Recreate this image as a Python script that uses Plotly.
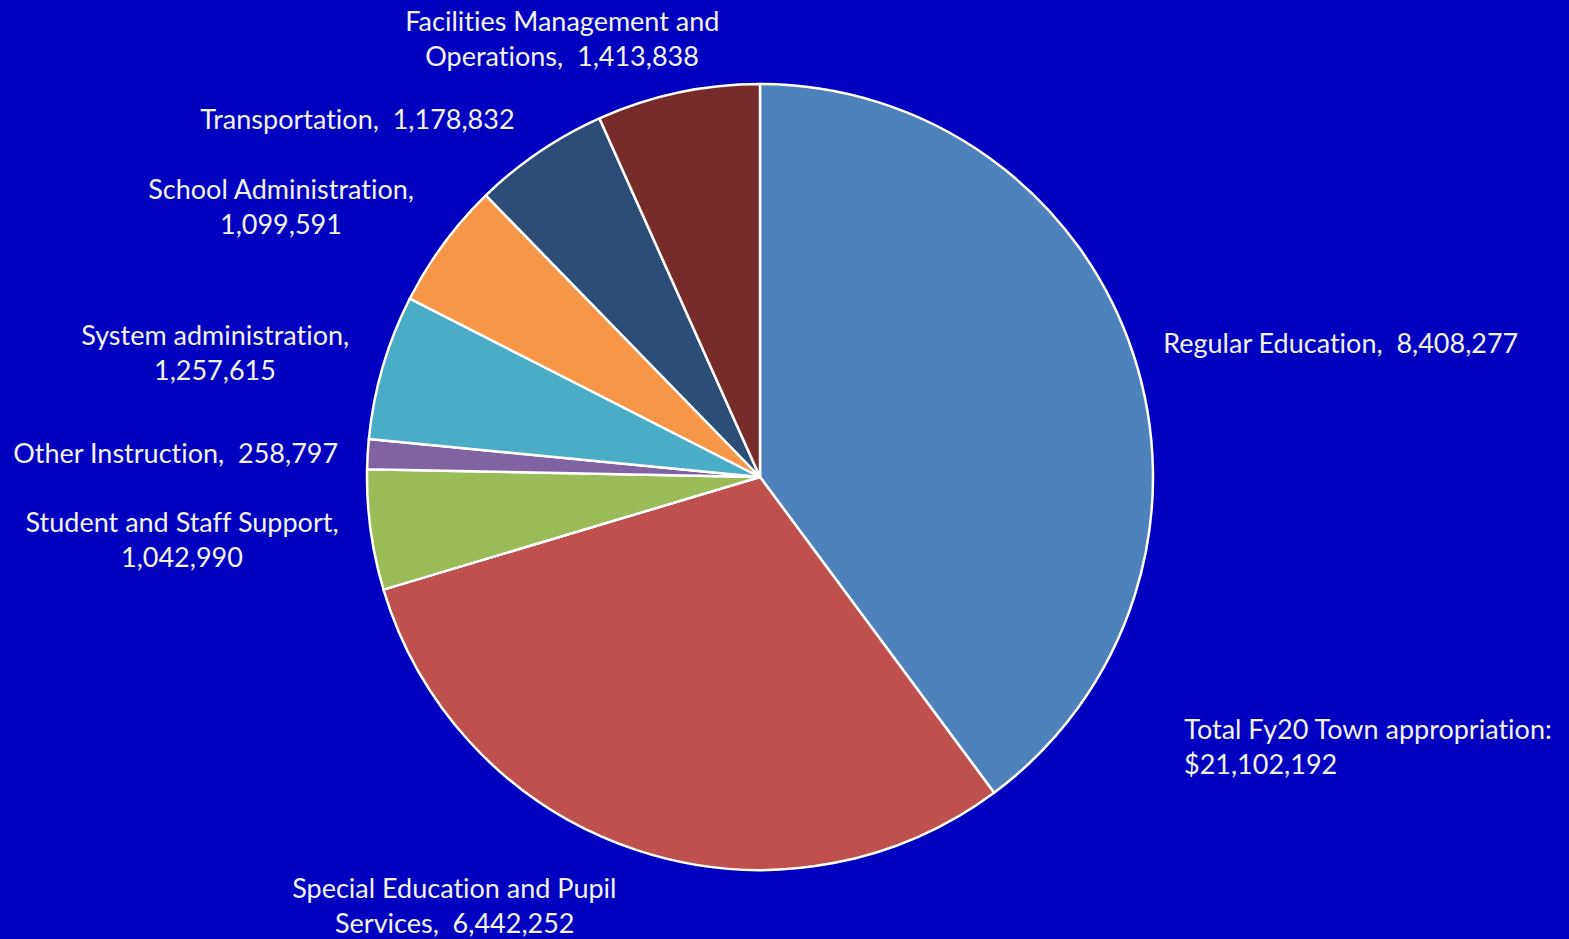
import plotly.graph_objects as go

categories = [
    "Regular Education",
    "Special Education and Pupil Services",
    "Student and Staff Support",
    "Other Instruction",
    "System administration",
    "School Administration",
    "Transportation",
    "Facilities Management and Operations",
]
values = [8408277, 6442252, 1042990, 258797, 1257615, 1099591, 1178832, 1413838]
colors = ["#4F81BD", "#C0504D", "#9BBB59", "#8064A2", "#4BACC6", "#F79646", "#2C4D75", "#772C2A"]

# label line breaks (text split into display lines)
label_lines = [
    ["Regular Education,  {v}"],
    ["Special Education and Pupil", "Services,  {v}"],
    ["Student and Staff Support,", "{v}"],
    ["Other Instruction,  {v}"],
    ["System administration,", "{v}"],
    ["School Administration,", "{v}"],
    ["Transportation,  {v}"],
    ["Facilities Management and", "Operations,  {v}"],
]
# label centre x (px) and first-line centre y (px) in the 1569x939 frame
label_pos = [
    (1341, 342), (455, 887), (182, 521), (175, 453),
    (215, 334), (281, 188), (357, 118), (562, 20),
]
total_lines = ["Total Fy20 Town appropriation:", "${v}"]

W, H = 1569, 939
LINE = 35
FONT = dict(family="Lato, Calibri, sans-serif", size=27, color="#F2F2F2")

fig = go.Figure(go.Pie(
    labels=categories,
    values=values,
    sort=False,
    direction="clockwise",
    rotation=0,
    marker=dict(colors=colors, line=dict(color="white", width=2.5)),
    textinfo="none",
    hoverinfo="label+value",
    showlegend=False,
    domain=dict(x=[367 / W, 1153 / W], y=[1 - 871 / H, 1 - 83 / H]),
))

annotations = []
for lines, (cx, cy), v in zip(label_lines, label_pos, values):
    for i, ln in enumerate(lines):
        annotations.append(dict(
            x=cx / W, y=1 - (cy + i * LINE) / H, xref="paper", yref="paper",
            text=ln.format(v=f"{v:,}"), showarrow=False,
            xanchor="center", yanchor="middle", font=FONT,
        ))
total = sum(values)
for i, ln in enumerate(total_lines):
    annotations.append(dict(
        x=1182 / W, y=1 - (728 + i * LINE) / H, xref="paper", yref="paper",
        text=ln.format(v=f"{total:,}"), showarrow=False,
        xanchor="left", yanchor="middle", font=FONT,
    ))

fig.update_layout(
    width=W, height=H,
    margin=dict(l=0, r=0, t=0, b=0),
    paper_bgcolor="#0000C0",
    plot_bgcolor="#0000C0",
    annotations=annotations,
)

post = (
    "document.body.style.margin='0';"
    "document.body.style.background='#0000C0';"
    "document.documentElement.style.background='#0000C0';"
    "var s=document.createElement('style');"
    "s.textContent='text{font-variant-ligatures:none !important;}';"
    "document.head.appendChild(s);"
)

fig.write_html("out.html", post_script=post, config={"displayModeBar": False})
